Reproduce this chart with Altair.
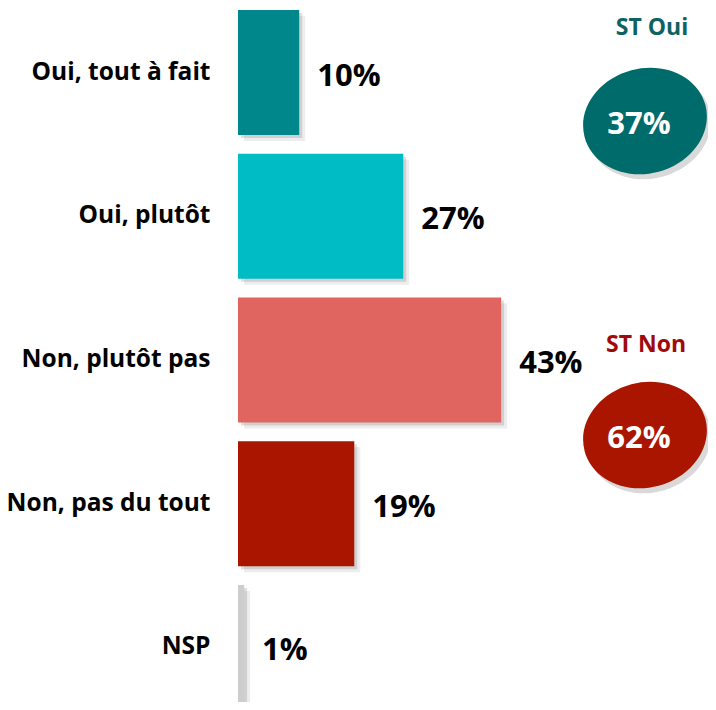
import altair as alt
import pandas as pd

categories = ["Oui, tout à fait", "Oui, plutôt", "Non, plutôt pas", "Non, pas du tout", "NSP"]
values = [10, 27, 43, 19, 1]
bar_colors = ["#00878B", "#00BCC5", "#E0645F", "#AA1500", "#CDCDCD"]

totals_labels = ["ST Oui", "ST Non"]
totals_values = [37, 62]
totals_colors = ["#006B6B", "#AA1500"]
totals_title_colors = ["#0F6262", "#A00A0A"]

FONT = "Open Sans"

df = pd.DataFrame({
    "cat": categories,
    "val": values,
    "color": bar_colors,
    "label": [f"{v}%" for v in values],
})

W, H = 462, 692
xscale = alt.Scale(domain=[0, W / 6.12], range=[0, W])
yscale = alt.Scale(domain=categories, range=[0, 700], paddingInner=0.13, paddingOuter=0)

base = alt.Chart(df)

y_axis = alt.Axis(domain=False, ticks=False, labelFontSize=24.5, labelFont=FONT,
                  labelFontWeight="bold", labelColor="#000000", labelPadding=28,
                  labelLimit=400, grid=False)
y_enc = alt.Y("cat:N", sort=categories, scale=yscale, title=None, axis=y_axis)
x_plain = alt.X("val:Q", scale=xscale, axis=None)

shadow1 = base.mark_bar(color="#000000", opacity=0.07, xOffset=6, yOffset=6).encode(
    x=x_plain, y=y_enc)
shadow2 = base.mark_bar(color="#000000", opacity=0.12, xOffset=3, yOffset=3).encode(
    x=x_plain, y=y_enc)
bars = base.mark_bar().encode(
    x=x_plain, y=y_enc,
    color=alt.Color("color:N", scale=None))
labels = base.mark_text(align="left", baseline="middle", dx=18, dy=4, font=FONT,
                        fontWeight="bold", fontSize=31, color="#000000").encode(
    x=x_plain, y=y_enc, text="label:N")

tdf = pd.DataFrame({
    "name": totals_labels,
    "val": totals_values,
    "label": [f"{v}%" for v in totals_values],
    "color": totals_colors,
    "tcolor": totals_title_colors,
    "px": [407, 407],
    "py": [111, 425],
    "tx": [414, 408],
    "ty": [18, 335],
})

ell_path = "M-1,0A1,0.84 0 1,0 1,0A1,0.84 0 1,0 -1,0Z"
tbase = alt.Chart(tdf)
px = alt.X("px:Q", scale=None, axis=None)
py = alt.Y("py:Q", scale=None, axis=None)
ell_shadow = tbase.mark_point(shape=ell_path, filled=True, size=15625, angle=345,
                              color="#000000", opacity=0.15, xOffset=4, yOffset=5, strokeWidth=0).encode(
    x=px, y=py)
ell = tbase.mark_point(shape=ell_path, filled=True, size=15625, angle=345, opacity=1, strokeWidth=0).encode(
    x=px, y=py, color=alt.Color("color:N", scale=None))
ell_text = tbase.mark_text(font=FONT, fontWeight="bold", fontSize=31, color="white",
                           baseline="middle", dx=-6, dy=4).encode(
    x=px, y=py, text="label:N")
title_text = tbase.mark_text(font=FONT, fontWeight="bold", fontSize=23, baseline="middle").encode(
    x=alt.X("tx:Q", scale=None, axis=None), y=alt.Y("ty:Q", scale=None, axis=None), text="name:N",
    color=alt.Color("tcolor:N", scale=None))

bar_layers = alt.layer(shadow1, shadow2, bars, labels)
ann_layers = alt.layer(ell_shadow, ell, ell_text, title_text)

chart = alt.layer(bar_layers, ann_layers).resolve_scale(y="independent", x="independent").resolve_axis(
    y="independent", x="independent").properties(
    width=W, height=H,
    autosize=alt.AutoSizeParams(type="none"),
    padding={"left": 230, "top": 2, "right": 8, "bottom": 0},
).configure(background="white").configure_view(stroke=None).configure_axis(grid=False)

chart.save("out.html", embed_options={"renderer": "svg", "actions": False})
